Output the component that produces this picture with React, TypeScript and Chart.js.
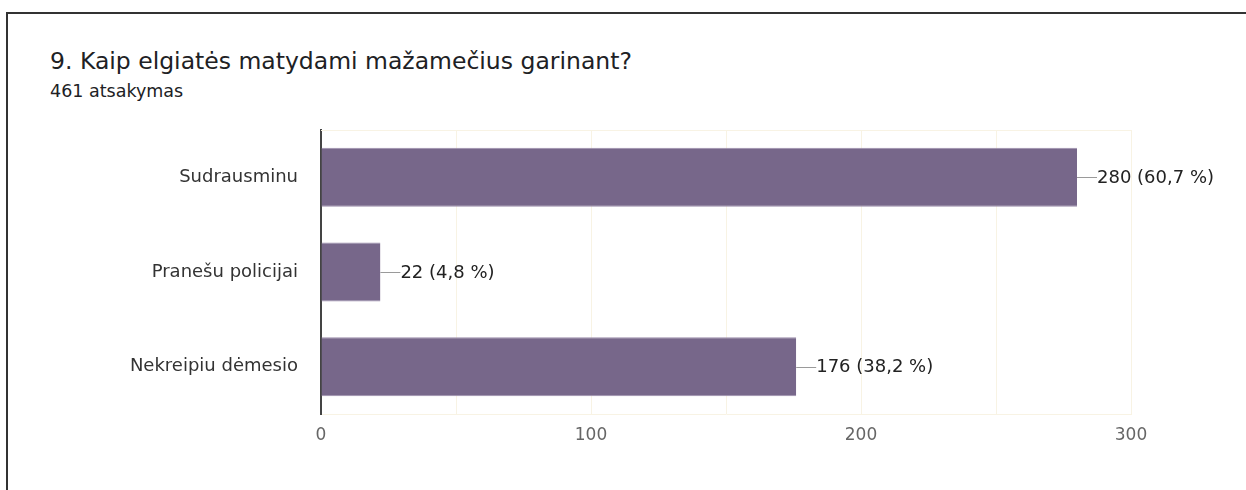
import React, { useEffect, useRef } from "react";
import { Chart, registerables } from "chart.js";

Chart.register(...registerables);

const categories: string[] = ["Sudrausminu", "Pranešu policijai", "Nekreipiu dėmesio"];
const counts: number[] = [280, 22, 176];
const percentLabels: string[] = ["60,7 %", "4,8 %", "38,2 %"];
const xTicks: number[] = [0, 100, 200, 300];

const title = "9. Kaip elgiatės matydami mažamečius garinant?";
const subtitle = "461 atsakymas";

const FONT = "'DejaVu Sans', 'Liberation Sans', Arial, sans-serif";

const valueLabelPlugin = {
  id: "valueLabels",
  afterDatasetsDraw(chart: any) {
    const ctx = chart.ctx;
    const meta = chart.getDatasetMeta(0);
    ctx.save();
    meta.data.forEach((bar: any, i: number) => {
      const x = bar.x;
      const y = bar.y;
      ctx.strokeStyle = "#9a9a9a";
      ctx.lineWidth = 1;
      ctx.beginPath();
      ctx.moveTo(x, Math.round(y) + 0.5);
      ctx.lineTo(x + 20, Math.round(y) + 0.5);
      ctx.stroke();
      ctx.fillStyle = "#222222";
      ctx.font = `18px ${FONT}`;
      ctx.textAlign = "left";
      ctx.textBaseline = "middle";
      ctx.fillText(`${counts[i]} (${percentLabels[i]})`, x + 20, y + 1);
    });
    ctx.restore();
  },
};

const topLinePlugin = {
  id: "topLine",
  beforeDatasetsDraw(chart: any) {
    const { ctx, chartArea } = chart;
    ctx.save();
    ctx.strokeStyle = "#f8f3e4";
    ctx.lineWidth = 1;
    ctx.beginPath();
    ctx.moveTo(chartArea.left, chartArea.top + 0.5);
    ctx.lineTo(chartArea.right, chartArea.top + 0.5);
    ctx.stroke();
    ctx.restore();
  },
};

export default function App() {
  const canvasRef = useRef<HTMLCanvasElement | null>(null);

  useEffect(() => {
    if (!canvasRef.current) return;
    const chart = new Chart(canvasRef.current, {
      type: "bar",
      data: {
        labels: categories,
        datasets: [
          {
            data: counts,
            backgroundColor: "#77678a",
            borderColor: "#9a8dab",
            borderWidth: { top: 1, bottom: 1, left: 0, right: 0 } as any,
            borderSkipped: false,
            categoryPercentage: 1,
            barPercentage: 0.623,
          },
        ],
      },
      options: {
        indexAxis: "y",
        animation: false,
        responsive: false,
        maintainAspectRatio: false,
        layout: { padding: { left: 0, right: 115, top: 130, bottom: 36 } },
        plugins: {
          legend: { display: false },
          tooltip: { enabled: false },
          title: { display: false },
        },
        scales: {
          x: {
            type: "linear",
            min: 0,
            max: 300,
            afterBuildTicks(scale: any) {
              const t: any[] = [];
              for (let v = 0; v <= 300; v += 50) t.push({ value: v });
              scale.ticks = t;
            },
            afterFit(scale: any) {
              scale.height = 40;
            },
            grid: {
              color: "#f8f3e4",
              lineWidth: 1,
              drawTicks: false,
            },
            border: { display: true, color: "#f8f3e4", width: 1 },
            ticks: {
              padding: 11,
              color: "#666666",
              font: { family: FONT, size: 17 },
              callback: (v: any) => (xTicks.includes(Number(v)) ? String(v) : ""),
              autoSkip: false,
              maxRotation: 0,
            },
          },
          y: {
            type: "category",
            afterFit(scale: any) {
              scale.width = 321;
            },
            grid: { display: false, drawTicks: false },
            border: { display: true, color: "#444444", width: 2 },
            ticks: {
              padding: 23,
              color: "#333333",
              font: { family: FONT, size: 18 },
            },
          },
        },
      },
      plugins: [topLinePlugin, valueLabelPlugin],
    });
    return () => chart.destroy();
  }, []);

  return (
    <div
      style={{
        position: "fixed",
        left: 0,
        top: 0,
        width: 1246,
        height: 490,
        overflow: "hidden",
        background: "#ffffff",
      }}
    >
      <div
        style={{
          position: "absolute",
          left: 6,
          top: 12,
          width: 1300,
          height: 600,
          border: "2px solid #333333",
          boxSizing: "border-box",
        }}
      />
      <div
        style={{
          position: "absolute",
          left: 50,
          top: 50,
          fontFamily: FONT,
          fontSize: 23.5,
          lineHeight: "23.5px",
          color: "#202124",
          whiteSpace: "nowrap",
        }}
      >
        {title}
      </div>
      <div
        style={{
          position: "absolute",
          left: 50,
          top: 83,
          fontFamily: FONT,
          fontSize: 17.5,
          lineHeight: "17.5px",
          color: "#202124",
          whiteSpace: "nowrap",
        }}
      >
        {subtitle}
      </div>
      <canvas
        ref={canvasRef}
        width={1246}
        height={490}
        style={{ position: "absolute", left: 0, top: 0, width: 1246, height: 490 }}
      />
    </div>
  );
}
